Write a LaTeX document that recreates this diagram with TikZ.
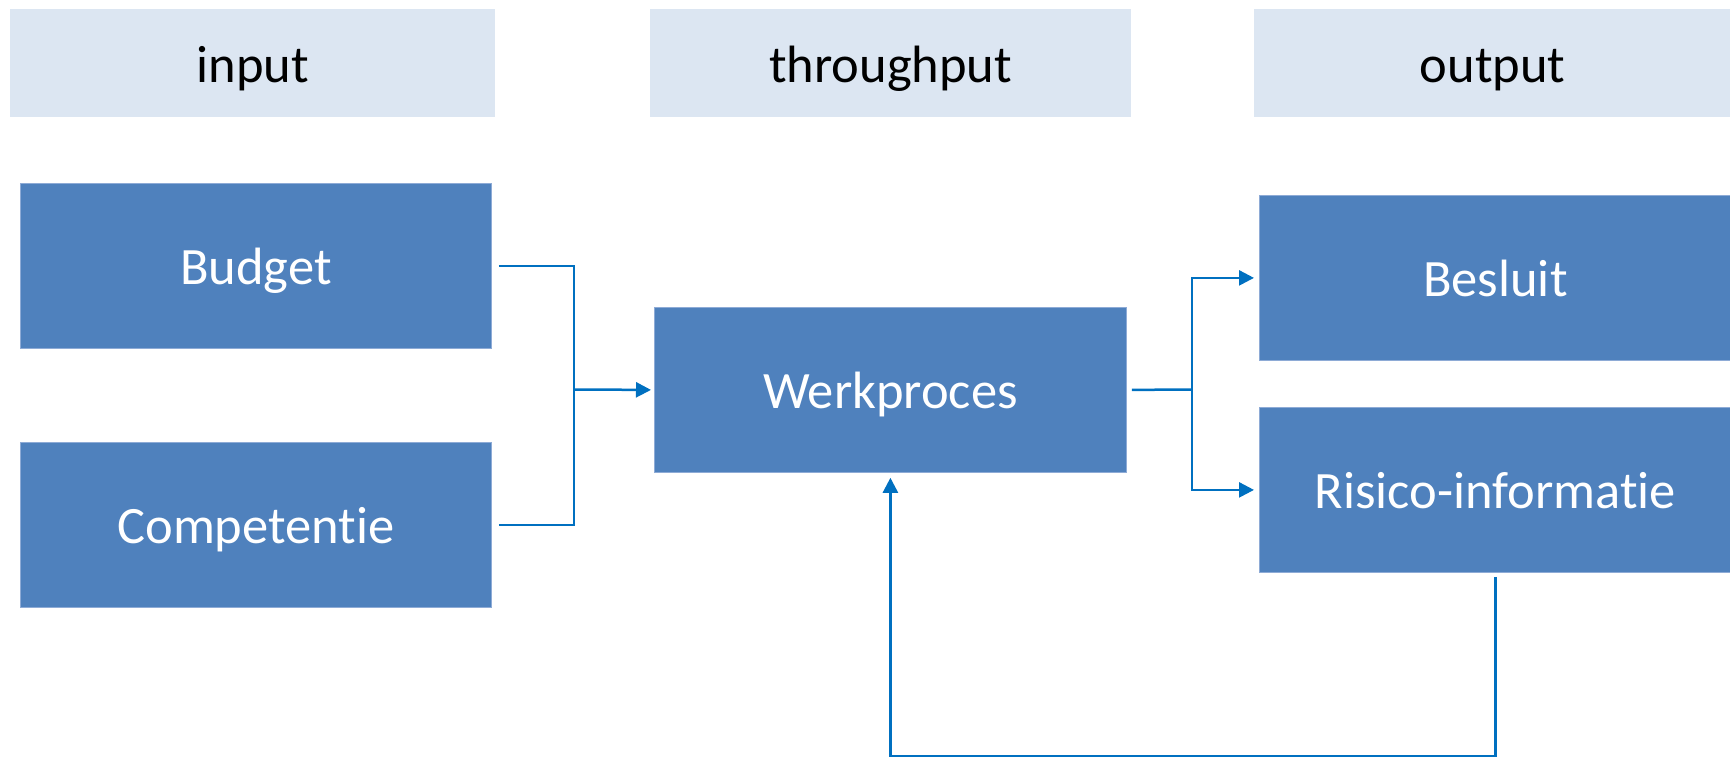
\documentclass[tikz,border=0pt]{standalone}
\usepackage{fontspec}
\setmainfont{Carlito}[Ligatures=NoCommon]
\usetikzlibrary{arrows.meta,calc}
\definecolor{boxblue}{HTML}{4F81BD}
\definecolor{boxedge}{HTML}{8EABD6}
\definecolor{hdrfill}{HTML}{DCE6F2}
\definecolor{linkblue}{HTML}{0070C0}
\begin{document}
\begin{tikzpicture}[x=1pt,y=-1pt,
  hdrbox/.style={fill=hdrfill, draw=none, anchor=north west, inner sep=0pt,
    text=black, font=\fontsize{52.5}{63}\selectfont, minimum height=108pt,
    text height=46pt, text depth=8pt},
  bluebox/.style={fill=boxblue, draw=boxedge, line width=0.8pt, anchor=north west, inner sep=0pt,
    text=white, font=\fontsize{52.5}{63}\selectfont, minimum width=471pt, minimum height=165pt,
    text height=45pt, text depth=8pt},
  link/.style={draw=linkblue, line width=2.5pt},
  arr/.style={-{Triangle[length=15pt,width=15pt]}}]
\useasboundingbox (0,0) rectangle (1730,757);
\fill[white] (0,0) rectangle (1730,757);
% headers
\node[hdrbox, minimum width=485pt] (hin) at (10,9) {input};
\node[hdrbox, minimum width=481pt] (hthr) at (650,9) {throughput};
\node[hdrbox, minimum width=477pt] (hout) at (1254,9) {output};
% boxes
\node[bluebox] (budget) at (20,183) {Budget};
\node[bluebox] (comp) at (20,442) {Competentie};
\node[bluebox, minimum width=472pt] (werk) at (654,307) {Werkproces};
\node[bluebox, minimum width=472pt] (besluit) at (1259,195) {Besluit};
\node[bluebox, minimum width=472pt] (risico) at (1259,407) {Risico-informatie};
% connectors
\coordinate (j1) at (574,389.5);
\coordinate (j2) at (1192,389.5);
\draw[link] ([xshift=7pt]budget.east) -| (j1);
\draw[link] ([xshift=7pt]comp.east) -| (j1);
\draw[link,arr] (j1) -- ([xshift=-3pt]werk.west);
\draw[link] ([xshift=5pt]werk.east) -- (j2);
\draw[link,arr] (j2) |- ([xshift=-5pt]besluit.west);
\draw[link,arr] (j2) |- ([xshift=-5pt]risico.west);
\draw[link,arr] ([yshift=-4pt]risico.south) -- ++(0,179) -| ([yshift=-5pt]werk.south);
\end{tikzpicture}
\end{document}
